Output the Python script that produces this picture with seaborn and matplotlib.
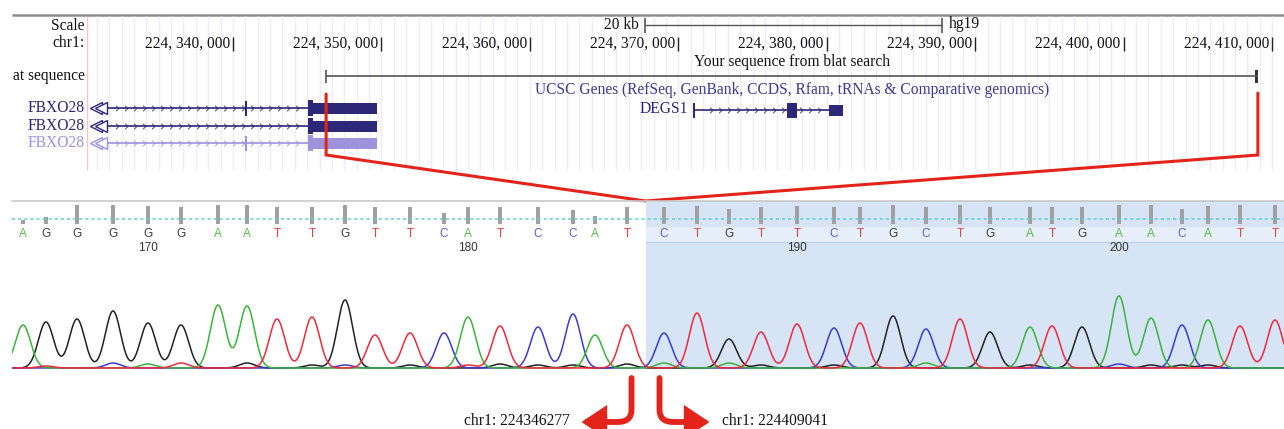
import numpy as np
import pandas as pd
import matplotlib
matplotlib.use("Agg")
import matplotlib.pyplot as plt
import seaborn as sns
from matplotlib.patches import Rectangle, FancyArrowPatch
from matplotlib.path import Path

sns.set_style("white")
plt.rcParams["font.family"] = ["Liberation Serif", "DejaVu Serif"]

# ---------------- genome browser window (hg19, chr1) ----------------
VIEW_START, VIEW_END = 224330170, 224410800
ruler_ticks = [224340000, 224350000, 224360000, 224370000,
               224380000, 224390000, 224400000, 224410000]
SCALE_BAR_START = 224367750
SCALE_BAR_LEN = 20000
BLAT_START, BLAT_END = 224346277, 224409041

fbxo28_start = 224330500
fbxo28_exons_a = [(224340810, 224340945), (224345054, 224349703)]
fbxo28_exons_b = [(224345054, 224349703)]
fbxo28_cds_cap = (224345054, 224345391)
degs1_span = (224370990, 224380154)
degs1_exons = [(224370960, 224371095), (224377324, 224377998), (224380120, 224381097)]

genes_title = "UCSC Genes (RefSeq, GenBank, CCDS, Rfam, tRNAs & Comparative genomics)"

# ---------------- Sanger trace ----------------
FIRST_POS = 166
bases = list("AGGGGGAATTGTTCATCCATCTGTTCTGCTGATGAACATT")
peak_scan = [23, 46, 77, 113, 148, 181, 218, 247, 277, 312,
             345, 375, 410, 444, 468, 500, 538, 573, 595, 627,
             664, 697, 729, 761, 797, 834, 860, 893, 926, 960,
             990, 1030, 1052, 1082, 1119, 1151, 1182, 1208, 1240, 1275]
peak_height = [43, 46, 49, 57, 45, 43, 63, 62, 49, 51,
               68, 33, 35, 35, 51, 42, 41, 54, 33, 43,
               35, 55, 29, 36, 44, 40, 45, 52, 39, 49,
               36, 41, 42, 41, 72, 50, 43, 48, 42, 48]
quality = [8, 14, 38, 38, 36, 34, 38, 38, 34, 34,
           38, 34, 34, 22, 34, 34, 34, 28, 16, 34,
           34, 36, 30, 34, 36, 34, 34, 38, 34, 38,
           34, 34, 34, 34, 38, 38, 30, 36, 38, 38]
# background signal under the called peaks: (call index, channel, height)
minor_peaks = [(1, "T", 2), (3, "C", 5), (4, "A", 4), (5, "T", 5), (7, "G", 5),
               (9, "G", 3), (10, "C", 3), (12, "G", 3), (14, "T", 3), (15, "G", 4),
               (16, "G", 3), (17, "G", 3), (19, "G", 4), (20, "A", 5), (22, "A", 5),
               (23, "G", 3), (25, "G", 3), (28, "A", 5), (31, "G", 3), (34, "C", 4),
               (35, "G", 3), (36, "G", 3), (37, "G", 3)]

trace_colors = {"A": "#3bb43b", "C": "#3b3bd4", "G": "#222222", "T": "#ef2a3c"}
letter_colors = {"A": "#58ba48", "C": "#5d5dca", "G": "#3c3c3c", "T": "#f23c3c"}

RED = "#e3241b"
NAVY = "#2c2877"
LIGHT = "#9d93dd"

W, H = 1284, 429
fig = plt.figure(figsize=(W / 100, H / 100), dpi=100)

# pixel canvas for frame elements and labels
base = fig.add_axes([0, 0, 1, 1])
base.set_xlim(0, W)
base.set_ylim(H, 0)
base.axis("off")

# genome axis: x in chromosome coordinates, y in track rows
GX0 = 87
gax = fig.add_axes([GX0 / W, 0, (W - GX0) / W, 1])
gax.set_xlim(VIEW_START, VIEW_END)
gax.set_ylim(H, 0)
gax.axis("off")
gax.patch.set_alpha(0)

bp_per_px = (VIEW_END - VIEW_START) / (W - GX0)

# trace axis (signal 0 sits one pixel above the bottom edge)
CX0, CTOP, CBOT = 12, 201, 369
cax = fig.add_axes([CX0 / W, (H - CBOT) / H, (W - CX0) / W, (CBOT - CTOP) / H])
cax.set_xlim(CX0, W)
cax.set_ylim(-1, CBOT - CTOP - 1)
cax.axis("off")
cax.patch.set_alpha(0)
TOPY = CBOT - CTOP - 1

# quality bar axis
QTOP, QBOT = 204, 224
qax = fig.add_axes([CX0 / W, (H - QBOT) / H, (W - CX0) / W, (QBOT - QTOP) / H])
qax.set_xlim(CX0, W)
qax.set_ylim(0, 40)
qax.axis("off")
qax.patch.set_alpha(0)

# ---------------- browser frame ----------------
base.plot([12, W], [15, 15], color="#8c8c8c", lw=1.8, solid_capstyle="butt")
grid_x = np.arange(ruler_ticks[0] - 12 * 10000 / 12, VIEW_END, 10000 / 12)
grid_x = grid_x[grid_x > VIEW_START + 300]
gax.vlines(grid_x, 16, 170, color="#ededf9", lw=1, zorder=0)
gax.vlines(VIEW_START, 16, 170, color="#f5c6c6", lw=1, zorder=0)

fs = 11.2
for y, s in [(26, "Scale"), (43, "chr1:"), (76, "at sequence")]:
    base.text(85, y, s, ha="right", va="center", fontsize=fs, color="#111")

# ruler
for t in ruler_ticks:
    lab = f"{t:,}".replace(",", ", ")
    gax.annotate(lab, (t, 44), xytext=(-3, 0), textcoords="offset pixels",
                 ha="right", va="center", fontsize=fs, color="#111")
    gax.vlines(t, 37, 51, color="#222", lw=1)

# scale bar
sb_end = SCALE_BAR_START + SCALE_BAR_LEN
gax.hlines(25, SCALE_BAR_START, sb_end, color="#555", lw=1)
gax.vlines([SCALE_BAR_START, sb_end], 18, 33, color="#555", lw=1.2)
gax.annotate(f"{SCALE_BAR_LEN // 1000} kb", (SCALE_BAR_START, 25), xytext=(-6, 0),
             textcoords="offset pixels", ha="right", va="center", fontsize=fs, color="#111")
gax.annotate("hg19", (sb_end, 24), xytext=(7, 0), textcoords="offset pixels",
             ha="left", va="center", fontsize=fs, color="#111")

# blat hit
blat_mid = (BLAT_START + BLAT_END) / 2
gax.text(blat_mid, 62, "Your sequence from blat search", ha="center", va="center",
         fontsize=fs, color="#111")
gax.hlines(76, BLAT_START, BLAT_END, color="#555", lw=1.2)
gax.vlines(BLAT_START, 70, 83, color="#555", lw=1.2)
gax.add_patch(Rectangle((BLAT_END - 3 * bp_per_px, 70), 3 * bp_per_px, 13,
                        color="#333", lw=0))

gax.text(blat_mid, 90, genes_title, ha="center", va="center", fontsize=fs, color="#3d3a8f")

# ---------------- gene models ----------------
chevron = Path([(-0.5, 1), (0.5, 0), (-0.5, -1)], [Path.MOVETO, Path.LINETO, Path.LINETO])


def draw_transcript(y, start, end, exons, color, cap=None):
    gax.hlines(y, start, end, color=color, lw=1.2)
    step = 9 * bp_per_px
    cx = np.arange(start + 2 * step, end - step, step)
    gax.plot(cx, [y] * len(cx), ls="none", marker=chevron, ms=4,
             mfc="none", mec=color, mew=0.7, alpha=0.85)
    for i, (s, e) in enumerate(exons):
        w = e - s
        tall = w < 3 * bp_per_px
        h = 15 if (tall or (i == 1 and len(exons) == 3)) else 11
        gax.add_patch(Rectangle((s, y - h / 2), w, h, color=color, lw=0))
    if cap is not None:
        gax.add_patch(Rectangle((cap[0], y - 8), cap[1] - cap[0], 16, color=color, lw=0))


rows = [(108, fbxo28_exons_a, NAVY), (126, fbxo28_exons_b, NAVY), (143, fbxo28_exons_a, LIGHT)]
for y, exons, col in rows:
    base.text(85, y, "FBXO28", ha="right", va="center", fontsize=fs, color=col)
    draw_transcript(y, fbxo28_start + 7 * bp_per_px, exons[-1][0], exons, col,
                    cap=fbxo28_cds_cap)
    gax.plot([fbxo28_start + 4 * bp_per_px, fbxo28_start + 9.5 * bp_per_px], [y, y],
             ls="none", marker="<", ms=8, mfc="white", mec=col, mew=1.0)

draw_transcript(110, degs1_span[0], degs1_span[1], degs1_exons, NAVY)
gax.annotate("DEGS1", (degs1_span[0], 109), xytext=(-5, 0), textcoords="offset pixels",
             ha="right", va="center", fontsize=fs, color=NAVY)

# ---------------- chromatogram ----------------
junction = (peak_scan[19] + peak_scan[20]) / 2
cax.fill_between([junction, W], -1, TOPY, color="#d6e4f6", lw=0, zorder=0)
cax.fill_between([junction, W], 126, 141, color="#e6eefa", lw=0, zorder=0.5)
cax.plot([junction, W], [126, 126], color="#bccfeb", lw=1, zorder=0.6)
cax.plot([CX0, W], [TOPY, TOPY], color="#c8c8c8", lw=1.2, clip_on=False)

scan = np.arange(CX0, W + 0.5, 0.5)
sigma = 7.6
signals = {b: np.zeros_like(scan) for b in "ACGT"}
for b, x0, h in zip(bases, peak_scan, peak_height):
    signals[b] += h * np.exp(-((scan - x0) ** 2) / (2 * sigma ** 2))
for i, b, h in minor_peaks:
    signals[b] += h * np.exp(-((scan - peak_scan[i]) ** 2) / (2 * sigma ** 2))
trace = pd.concat([pd.DataFrame({"scan": scan, "signal": signals[b], "channel": b})
                   for b in "ACGT"], ignore_index=True)
# one call per channel, red last so it lies on top along the baseline
for z, b in enumerate(["G", "C", "A", "T"]):
    sns.lineplot(data=trace[trace["channel"] == b], x="scan", y="signal",
                 color=trace_colors[b], estimator=None, sort=False, lw=1.1,
                 legend=False, ax=cax, zorder=3 + z)
cax.axis("off")

for i, (b, x0) in enumerate(zip(bases, peak_scan)):
    cax.text(x0, 134, b, ha="center", va="center", fontsize=8.5, color=letter_colors[b],
             family="Liberation Sans")
    if (FIRST_POS + i) % 10 == 0:
        cax.text(x0, 120, str(FIRST_POS + i), ha="center", va="center", fontsize=8.5,
                 color="#333", family="Liberation Sans")

qax.bar(peak_scan, quality, width=3.4, color="#a0a0a0", lw=0)
qax.axhline(10, color="#5ccfd4", ls=(0, (2, 2)), lw=1.1)

# ---------------- connectors ----------------
apex_disp = cax.transData.transform((junction, TOPY))
apex_g, apex_y = gax.transData.inverted().transform(apex_disp)
gax.plot([BLAT_START, BLAT_START, apex_g, BLAT_END, BLAT_END], [94, 155, apex_y, 155, 93],
         color=RED, lw=2.2, solid_joinstyle="miter", clip_on=False)

jx = base.transData.inverted().transform(apex_disp)[0]
for sgn, pos in [(-1, BLAT_START), (1, BLAT_END)]:
    x0 = jx + sgn * 14
    verts = [(x0, 378), (x0, 410), (x0, 422), (x0 + sgn * 14, 422), (x0 + sgn * 50, 422)]
    codes = [Path.MOVETO, Path.LINETO, Path.CURVE3, Path.CURVE3, Path.LINETO]
    arr = FancyArrowPatch(path=Path(verts, codes),
                          arrowstyle="-|>,head_length=0.9,head_width=0.6",
                          mutation_scale=14, lw=4.2, color=RED, joinstyle="miter")
    base.add_patch(arr)
    base.text(x0 + sgn * 62, 421, f"chr1: {pos}", ha="right" if sgn < 0 else "left",
              va="center", fontsize=fs, color="#111")

fig.savefig("out.png", dpi=100)
